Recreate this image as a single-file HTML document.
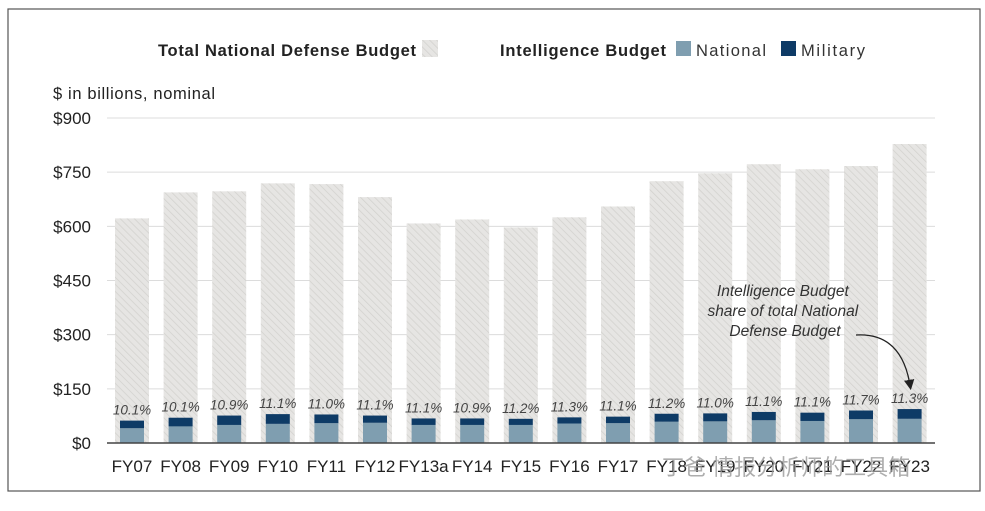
<!DOCTYPE html>
<html><head><meta charset="utf-8"><style>
body{margin:0;background:#fff;}
svg{display:block;font-family:"Liberation Sans","Noto Sans CJK SC",sans-serif;}
</style></head><body>
<svg id="chart" width="985" height="511" viewBox="0 0 985 511">
<defs>
<pattern id="hatch" width="5" height="5" patternUnits="userSpaceOnUse" patternTransform="rotate(-45)">
<rect width="5" height="5" fill="#e6e5e3"/>
<line x1="0" y1="0" x2="0" y2="5" stroke="#d2d1ce" stroke-width="1.5"/>
</pattern>
<marker id="arrow" markerWidth="8" markerHeight="8" refX="4" refY="4" orient="auto">
<path d="M0,0 L8,4 L0,8 Z" fill="#222"/>
</marker>
</defs>
<rect x="8" y="9" width="972" height="482" fill="#fff" stroke="#555" stroke-width="1.2"/>
<g>
<text x="158" y="56" font-size="16.5" font-weight="bold" fill="#222" textLength="258">Total National Defense Budget</text>
<rect x="422" y="40" width="16" height="17" fill="url(#hatch)"/>
<text x="500" y="56" font-size="16.5" font-weight="bold" fill="#222" textLength="166">Intelligence Budget</text>
<rect x="676" y="41" width="15" height="15" fill="#7f9eb0"/>
<text x="696" y="56" font-size="16.5" fill="#333" textLength="70">National</text>
<rect x="781" y="41" width="15" height="15" fill="#0e3b66"/>
<text x="801" y="56" font-size="16.5" fill="#333" textLength="64">Military</text>
</g>
<text x="53" y="99" font-size="16.5" fill="#222" textLength="162">$ in billions, nominal</text>
<g id="grid"></g><g id="bars"></g><g id="labels"></g>
<g>
<text font-size="15.5" font-style="italic" fill="#333" text-anchor="middle">
<tspan x="785" y="296">Intelligence Budget</tspan>
<tspan x="785" y="316">share of total National</tspan>
<tspan x="785" y="336">Defense Budget</tspan></text>
<path d="M856,335 C890,333 905,355 910,385" fill="none" stroke="#222" stroke-width="1.3" marker-end="url(#arrow)"/>
</g>
<text x="662" y="475" font-size="22" fill="#999" opacity="0.8">丁爸 情报分析师的工具箱</text>
</svg>
<script>
const categories=["FY07","FY08","FY09","FY10","FY11","FY12","FY13a","FY14","FY15","FY16","FY17","FY18","FY19","FY20","FY21","FY22","FY23"];
const defense=[622,694,697,719,717,681,608,619,597,625,655,725,747,772,758,767,828];
const national=[41,46,50,53,55,56,50,50,50,54,55,59,60,63,61,66,67];
const military=[21,24,26,27,24,20,18,18,17,17,18,22,22,23,23,24,27];
const shares=["10.1%","10.1%","10.9%","11.1%","11.0%","11.1%","11.1%","10.9%","11.2%","11.3%","11.1%","11.2%","11.0%","11.1%","11.1%","11.7%","11.3%"];
const yTicks=[0,150,300,450,600,750,900];
const yTickLabels=["$0","$150","$300","$450","$600","$750","$900"];
const NS="http://www.w3.org/2000/svg";
const y0=443,yTop=118,vmax=900;
const y=v=>y0-(v/vmax)*(y0-yTop);
const x=i=>132+i*48.6;
function mk(tag,attrs,parent){const e=document.createElementNS(NS,tag);for(const k in attrs)e.setAttribute(k,attrs[k]);parent.appendChild(e);return e;}
const grid=document.getElementById('grid'),bars=document.getElementById('bars'),labels=document.getElementById('labels');
yTicks.forEach((t,i)=>{
 if(t>0){const l=mk('line',{x1:107,x2:935,y1:y(t),y2:y(t),stroke:'#dcdcdc','stroke-width':1},grid);
 
 }
 const tx=mk('text',{x:91,y:y(t)+6,'font-size':17,fill:'#222','text-anchor':'end'},grid);
 tx.textContent=yTickLabels[i];
 
 
});
categories.forEach((c,i)=>{
 const cx=x(i);
 const d=mk('rect',{x:cx-17,y:y(defense[i]),width:34,height:y0-y(defense[i]),fill:'url(#hatch)'},bars);
 
 
 const n=mk('rect',{x:cx-12,y:y(national[i]),width:24,height:y0-y(national[i]),fill:'#7f9eb0'},bars);
 
 
 const m=mk('rect',{x:cx-12,y:y(national[i]+military[i]),width:24,height:y(national[i])-y(national[i]+military[i]),fill:'#0e3b66'},bars);
 
 
 const s=mk('text',{x:cx,y:y(national[i]+military[i])-6,'font-size':13.5,'font-style':'italic',fill:'#444','text-anchor':'middle'},labels);
 s.textContent=shares[i];
 
 
 const t=mk('text',{x:cx,y:472,'font-size':17,fill:'#222','text-anchor':'middle'},labels);
 t.textContent=c;
 
 
});
const ax=mk('line',{x1:107,x2:935,y1:y0,y2:y0,stroke:'#444','stroke-width':1.5},labels);


</script>
</body></html>
